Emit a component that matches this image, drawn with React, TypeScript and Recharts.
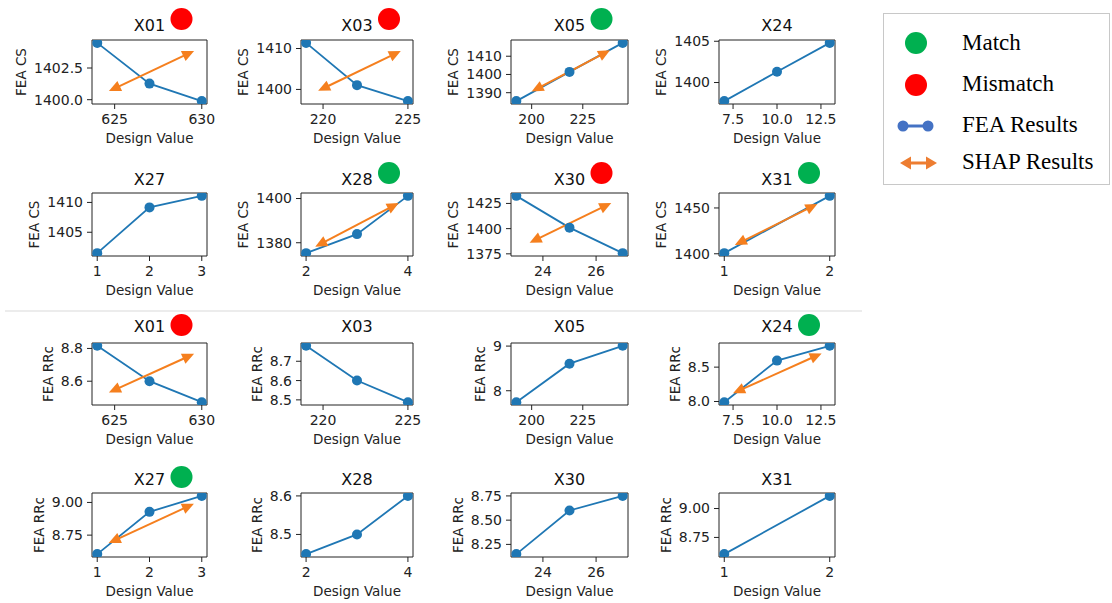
import { LineChart, Line, XAxis, YAxis, ReferenceArea, ReferenceLine } from "recharts";

const FONT = "'DejaVu Sans', Verdana, sans-serif";
const SERIF = "'Liberation Serif', 'Times New Roman', serif";
const BLUE = "#1f77b4";
const ORANGE = "#f57f1e";
const GREEN = "#00b050";
const RED = "#ff0000";
const INK = "#222";

// design values
const xX01 = [624, 627, 630];
const xX03 = [219, 222, 225];
const xX05 = [192.5, 218.5, 244.5];
const xX24 = [7, 10, 13];
const xX27 = [1, 2, 3];
const xX28 = [2, 3, 4];
const xX30 = [23, 25, 27];
const xX31 = [1, 2];

// x ticks
const xtX01 = [625, 630];
const xtX03 = [220, 225];
const xtX05 = [200, 225];
const xtX24 = [7.5, 10, 12.5];
const xtX27 = [1, 2, 3];
const xtX28 = [2, 4];
const xtX30 = [24, 26];
const xtX31 = [1, 2];

// FEA CS
const csX01 = [1404.48, 1401.27, 1399.89];
const csX03 = [1411.37, 1401.05, 1397.15];
const csX05 = [1385.4, 1401.4, 1417.3];
const csX24 = [1397.75, 1401.3, 1404.8];
const csX27 = [1401.5, 1409.17, 1411.1];
const csX28 = [1375.3, 1383.9, 1401.2];
const csX30 = [1432.5, 1401, 1375.7];
const csX31 = [1400.7, 1463.2];

// FEA RRc
const rrX01 = [8.816, 8.6, 8.472];
const rrX03 = [8.78, 8.6, 8.488];
const rrX05 = [7.744, 8.606, 9.006];
const rrX24 = [7.99, 8.595, 8.81];
const rrX27 = [8.605, 8.928, 9.05];
const rrX28 = [8.449, 8.5, 8.6];
const rrX30 = [8.15, 8.6, 8.75];
const rrX31 = [8.606, 9.109];

// SHAP arrows: [start, end] as [x, y]
const shCsX01 = [[624.67, 1400.68], [629.56, 1403.85]];
const shCsX03 = [[219.71, 1399.66], [224.58, 1409.4]];
const shCsX05 = [[200, 1390.6], [238.3, 1413.3]];
const shCsX28 = [[2.18, 1378.2], [3.82, 1398]];
const shCsX30 = [[23.5, 1386], [26.57, 1425.4]];
const shCsX31 = [[1.1, 1409.6], [1.883, 1454.3]];
const shRrX01 = [[624.67, 8.531], [629.56, 8.767]];
const shRrX24 = [[7.5, 8.12], [12.54, 8.7]];
const shRrX27 = [[1.22, 8.69], [2.85, 8.99]];

// y ticks
const ytCsX01 = [1400, 1402.5];
const ytCsX03 = [1400, 1410];
const ytCsX05 = [1390, 1400, 1410];
const ytCsX24 = [1400, 1405];
const ytCsX27 = [1405, 1410];
const ytCsX28 = [1380, 1400];
const ytCsX30 = [1375, 1400, 1425];
const ytCsX31 = [1400, 1450];
const ytRrX01 = [8.6, 8.8];
const ytRrX03 = [8.5, 8.6, 8.7];
const ytRrX05 = [8, 9];
const ytRrX24 = [8, 8.5];
const ytRrX27 = [8.75, 9];
const ytRrX28 = [8.5, 8.6];
const ytRrX30 = [8.25, 8.5, 8.75];
const ytRrX31 = [8.75, 9];

type Status = "match" | "mismatch" | null;

const panels = [
  // row 1: CS
  { title: "X01", label: "FEA CS", x: xX01, y: csX01, xt: xtX01, yt: ytCsX01, xd: 0, yd: 1, shap: shCsX01, status: "mismatch" },
  { title: "X03", label: "FEA CS", x: xX03, y: csX03, xt: xtX03, yt: ytCsX03, xd: 0, yd: 0, shap: shCsX03, status: "mismatch" },
  { title: "X05", label: "FEA CS", x: xX05, y: csX05, xt: xtX05, yt: ytCsX05, xd: 0, yd: 0, shap: shCsX05, status: "match" },
  { title: "X24", label: "FEA CS", x: xX24, y: csX24, xt: xtX24, yt: ytCsX24, xd: 1, yd: 0, shap: null, status: null },
  // row 2: CS
  { title: "X27", label: "FEA CS", x: xX27, y: csX27, xt: xtX27, yt: ytCsX27, xd: 0, yd: 0, shap: null, status: null },
  { title: "X28", label: "FEA CS", x: xX28, y: csX28, xt: xtX28, yt: ytCsX28, xd: 0, yd: 0, shap: shCsX28, status: "match" },
  { title: "X30", label: "FEA CS", x: xX30, y: csX30, xt: xtX30, yt: ytCsX30, xd: 0, yd: 0, shap: shCsX30, status: "mismatch" },
  { title: "X31", label: "FEA CS", x: xX31, y: csX31, xt: xtX31, yt: ytCsX31, xd: 0, yd: 0, shap: shCsX31, status: "match" },
  // row 3: RRc
  { title: "X01", label: "FEA RRc", x: xX01, y: rrX01, xt: xtX01, yt: ytRrX01, xd: 0, yd: 1, shap: shRrX01, status: "mismatch" },
  { title: "X03", label: "FEA RRc", x: xX03, y: rrX03, xt: xtX03, yt: ytRrX03, xd: 0, yd: 1, shap: null, status: null },
  { title: "X05", label: "FEA RRc", x: xX05, y: rrX05, xt: xtX05, yt: ytRrX05, xd: 0, yd: 0, shap: null, status: null },
  { title: "X24", label: "FEA RRc", x: xX24, y: rrX24, xt: xtX24, yt: ytRrX24, xd: 1, yd: 1, shap: shRrX24, status: "match" },
  // row 4: RRc
  { title: "X27", label: "FEA RRc", x: xX27, y: rrX27, xt: xtX27, yt: ytRrX27, xd: 0, yd: 2, shap: shRrX27, status: "match" },
  { title: "X28", label: "FEA RRc", x: xX28, y: rrX28, xt: xtX28, yt: ytRrX28, xd: 0, yd: 1, shap: null, status: null },
  { title: "X30", label: "FEA RRc", x: xX30, y: rrX30, xt: xtX30, yt: ytRrX30, xd: 0, yd: 2, shap: null, status: null },
  { title: "X31", label: "FEA RRc", x: xX31, y: rrX31, xt: xtX31, yt: ytRrX31, xd: 0, yd: 2, shap: null, status: null },
];

// plot-box geometry
const COLS = [
  { l: 92, w: 115 },
  { l: 301, w: 112 },
  { l: 511, w: 117 },
  { l: 719, w: 116 },
];
const ROWS = [
  { t: 40, h: 64, title: 31, badge: 19 },
  { t: 193, h: 63, title: 185, badge: 173 },
  { t: 343, h: 62, title: 332, badge: 325 },
  { t: 493, h: 64, title: 485, badge: 477 },
];

const YW = 80;
const XH = 30;
const TOPM = 12;
const TICK_FS = 14;

// matplotlib-like 5% margins
const pad = (v: number[]): [number, number] => {
  const lo = Math.min(...v);
  const hi = Math.max(...v);
  const m = (hi - lo) * 0.05;
  return [lo - m, hi + m];
};

const textW = (s: string) =>
  s.split("").reduce((a, c) => a + (c === "." ? 0.318 : 0.636) * TICK_FS, 0);

const Arrow = (props: any) => {
  const { x1, y1, x2, y2 } = props;
  const dx = x2 - x1;
  const dy = y2 - y1;
  const len = Math.hypot(dx, dy) || 1;
  const ux = dx / len;
  const uy = dy / len;
  const L = 12;
  const W = 5.5;
  const head = (tx: number, ty: number, sx: number, sy: number) => {
    const bx = tx - sx * L;
    const by = ty - sy * L;
    return `${tx},${ty} ${bx - sy * W},${by + sx * W} ${bx + sy * W},${by - sx * W}`;
  };
  return (
    <g>
      <line
        x1={x1 + ux * (L - 2)}
        y1={y1 + uy * (L - 2)}
        x2={x2 - ux * (L - 2)}
        y2={y2 - uy * (L - 2)}
        stroke={ORANGE}
        strokeWidth={2}
      />
      <polygon points={head(x2, y2, ux, uy)} fill={ORANGE} />
      <polygon points={head(x1, y1, -ux, -uy)} fill={ORANGE} />
    </g>
  );
};

const Panel = ({ p, idx }: { p: any; idx: number }) => {
  const col = COLS[idx % 4];
  const row = ROWS[Math.floor(idx / 4)];
  const xd = pad(p.x);
  const yd = pad(p.y);
  const data = p.x.map((x: number, i: number) => ({ x, y: p.y[i] }));
  const tickStyle = { fill: INK, fontSize: TICK_FS, fontFamily: FONT };
  return (
    <div style={{ position: "absolute", left: col.l - YW, top: row.t - TOPM }}>
      <LineChart
        width={YW + col.w + 14}
        height={row.h + XH + TOPM}
        data={data}
        margin={{ top: TOPM, right: 14, bottom: 0, left: 0 }}
      >
        <XAxis
          type="number"
          dataKey="x"
          domain={xd}
          allowDataOverflow
          ticks={p.xt}
          interval={0}
          tickFormatter={(v: number) => v.toFixed(p.xd)}
          height={XH}
          axisLine={false}
          tickSize={5}
          tickMargin={5}
          tickLine={{ stroke: INK }}
          tick={tickStyle}
        />
        <YAxis
          type="number"
          domain={yd}
          allowDataOverflow
          ticks={p.yt}
          interval={0}
          tickFormatter={(v: number) => v.toFixed(p.yd)}
          width={YW}
          axisLine={false}
          tickSize={5}
          tickMargin={4}
          tickLine={{ stroke: INK }}
          tick={tickStyle}
        />
        <ReferenceArea
          x1={xd[0]}
          x2={xd[1]}
          y1={yd[0]}
          y2={yd[1]}
          fill="none"
          fillOpacity={0}
          stroke={INK}
          strokeWidth={1}
          ifOverflow="visible"
        />
        <Line
          type="linear"
          dataKey="y"
          stroke={BLUE}
          strokeWidth={1.8}
          dot={{ r: 5, fill: BLUE, stroke: BLUE, strokeWidth: 0 }}
          activeDot={false}
          isAnimationActive={false}
        />
        {p.shap && (
          <ReferenceLine
            segment={[
              { x: p.shap[0][0], y: p.shap[0][1] },
              { x: p.shap[1][0], y: p.shap[1][1] },
            ]}
            ifOverflow="visible"
            shape={Arrow}
          />
        )}
      </LineChart>
    </div>
  );
};

const Overlay = () => (
  <svg
    width={1112}
    height={603}
    style={{ position: "absolute", left: 0, top: 0, pointerEvents: "none" }}
  >
    <line x1={5} y1={311} x2={862} y2={311} stroke="#d9d9d9" strokeWidth={1} />
    {panels.map((p, idx) => {
      const col = COLS[idx % 4];
      const row = ROWS[Math.floor(idx / 4)];
      const cx = col.l + col.w / 2;
      const tw = Math.max(...p.yt.map((v) => textW(v.toFixed(p.yd))));
      const lx = col.l - tw - 22;
      const ly = row.t + row.h / 2;
      const status = p.status as Status;
      return (
        <g key={idx} fontFamily={FONT} fill={INK}>
          <text x={cx} y={row.title} fontSize={16} textAnchor="middle" fill="#111">
            {p.title}
          </text>
          {status && (
            <circle cx={cx + 32} cy={row.badge} r={11} fill={status === "match" ? GREEN : RED} />
          )}
          <text
            x={lx}
            y={ly}
            fontSize={13.5}
            textAnchor="middle"
            dominantBaseline="central"
            transform={`rotate(-90 ${lx} ${ly})`}
          >
            {p.label}
          </text>
          <text x={cx} y={row.t + row.h + 39} fontSize={13.5} textAnchor="middle">
            Design Value
          </text>
        </g>
      );
    })}
    {/* legend */}
    <rect x={883.5} y={13.5} width={226} height={171} fill="#fff" stroke="#c8c8c8" strokeWidth={1} />
    <circle cx={916} cy={43} r={11} fill={GREEN} />
    <circle cx={916} cy={85} r={11} fill={RED} />
    <line x1={903} y1={126} x2={928} y2={126} stroke="#4472c4" strokeWidth={3} />
    <circle cx={903} cy={126} r={5.5} fill="#4472c4" />
    <circle cx={928} cy={126} r={5.5} fill="#4472c4" />
    <line x1={908} y1={163} x2={929} y2={163} stroke="#ed7d31" strokeWidth={3} />
    <polygon points="900,163 911,156.5 911,169.5" fill="#ed7d31" />
    <polygon points="937,163 926,156.5 926,169.5" fill="#ed7d31" />
    <g fontFamily={SERIF} fontSize={23} fill="#000">
      <text x={962} y={50}>Match</text>
      <text x={962} y={91}>Mismatch</text>
      <text x={962} y={132}>FEA Results</text>
      <text x={962} y={169}>SHAP Results</text>
    </g>
  </svg>
);

export default function App() {
  return (
    <div style={{ position: "absolute", left: 0, top: 0, width: 1112, height: 603, background: "#fff" }}>
      {panels.map((p, idx) => (
        <Panel key={idx} p={p} idx={idx} />
      ))}
      <Overlay />
    </div>
  );
}
